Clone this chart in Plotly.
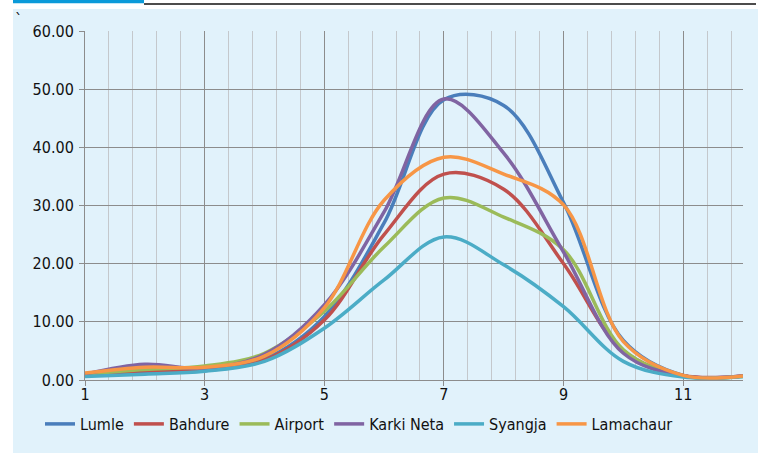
import plotly.graph_objects as go

# Monthly values per station
months = [1, 2, 3, 4, 5, 6, 7, 8, 9, 10, 11, 12]
lumle = [0.8, 1.3, 1.6, 3.6, 10.9, 27.0, 48.2, 47.2, 30.5, 6.8, 0.8, 0.7]
bahdure = [0.9, 1.6, 1.8, 3.4, 10.3, 25.0, 35.4, 32.8, 20.0, 5.0, 0.8, 0.7]
airport = [1.0, 1.8, 2.4, 4.6, 11.8, 22.9, 31.3, 28.0, 22.4, 5.2, 0.7, 0.6]
karki_neta = [1.0, 2.7, 2.0, 4.4, 12.9, 28.9, 48.3, 39.0, 22.0, 4.6, 0.7, 0.7]
syangja = [0.6, 1.0, 1.5, 3.2, 8.9, 17.2, 24.6, 19.8, 12.6, 3.2, 0.5, 0.6]
lamachaur = [1.2, 2.2, 2.2, 4.1, 12.4, 30.9, 38.3, 35.4, 30.1, 6.6, 0.8, 0.7]

series = [
    ("Lumle", lumle, "#4A7EBB"),
    ("Bahdure", bahdure, "#C0504D"),
    ("Airport", airport, "#9BBB59"),
    ("Karki Neta", karki_neta, "#8064A2"),
    ("Syangja", syangja, "#4BACC6"),
    ("Lamachaur", lamachaur, "#F79646"),
]

W, H = 758, 453
L, R, T, B = 85, 15, 31, 73
PW, PH = W - L - R, H - T - B
PANEL = "#E1F2FB"
FONT = "DejaVu Sans Condensed, Liberation Sans Narrow, Roboto, sans-serif"


def px(x):
    return (x - L) / PW


def py(y):
    return (H - B - y) / PH


fig = go.Figure()
for name, vals, color in series:
    fig.add_trace(go.Scatter(
        x=months, y=vals, name=name, mode="lines",
        line=dict(color=color, width=3.5, shape="spline", smoothing=1.0),
    ))

shapes = [
    # light panel behind the chart
    dict(type="rect", xref="paper", yref="paper", x0=px(13), x1=px(W + 2),
         y0=py(9), y1=py(H + 2), fillcolor=PANEL, line=dict(width=0), layer="below"),
    # header bar and rule
    dict(type="rect", xref="paper", yref="paper", x0=px(13), x1=px(144),
         y0=py(0), y1=py(3.3), fillcolor="#0A9AD9", line=dict(width=0)),
    dict(type="rect", xref="paper", yref="paper", x0=px(144), x1=px(756),
         y0=py(3.2), y1=py(4.8), fillcolor="#111111", line=dict(width=0)),
]

fig.update_layout(
    width=W, height=H,
    margin=dict(l=L, r=R, t=T, b=B, pad=0),
    paper_bgcolor="white",
    plot_bgcolor=PANEL,
    font=dict(family=FONT, size=16, color="#111111"),
    shapes=shapes,
    annotations=[dict(text="`", xref="paper", yref="paper", x=px(13), y=py(8),
                      xanchor="left", yanchor="top", showarrow=False,
                      font=dict(size=16, color="#111111"))],
    legend=dict(orientation="h", x=px(40), y=py(424), xanchor="left", yanchor="middle",
                bgcolor="rgba(0,0,0,0)", font=dict(size=16), itemwidth=30,
                tracegroupgap=0),
    showlegend=True,
)

fig.update_xaxes(
    range=[1, 12], tick0=1, dtick=2,
    showgrid=True, gridcolor="#8C8C8C", gridwidth=1,
    showline=True, linecolor="#8C8C8C", linewidth=1,
    ticks="outside", ticklen=5, tickcolor="#8C8C8C",
    zeroline=False, ticklabelstandoff=-5,
    minor=dict(tick0=1, dtick=0.4, showgrid=True, gridcolor="#C4C8CC", gridwidth=1),
)
fig.update_yaxes(
    range=[0, 60], tick0=0, dtick=10, tickformat=".2f",
    showgrid=True, gridcolor="#8C8C8C", gridwidth=1,
    showline=True, linecolor="#8C8C8C", linewidth=1,
    ticks="outside", ticklen=5, tickcolor="#8C8C8C",
    zeroline=False, ticklabelstandoff=2,
)

fig.write_html("out.html")
